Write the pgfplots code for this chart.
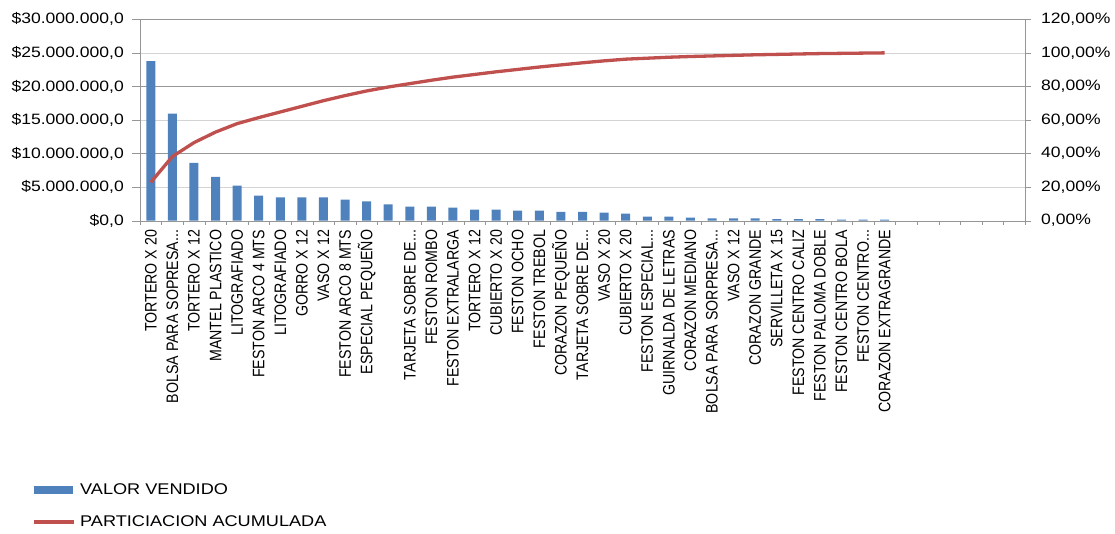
\documentclass[border=0pt]{standalone}
\usepackage{fontspec}
\setmainfont{Liberation Sans}[FakeStretch=1.17]
\newfontfamily\labelfont{Liberation Sans}
\usepackage{pgfplots}
\pgfplotsset{compat=1.18}
\definecolor{barBlue}{RGB}{79,129,189}
\definecolor{lineRed}{RGB}{192,80,77}
\definecolor{gridDark}{RGB}{150,150,150}
\definecolor{gridLight}{RGB}{212,212,212}
\newcommand{\tdots}{.{}.{}.}

\begin{document}
\begin{tikzpicture}
    % mesmo tamanho nos dois eixos
    \pgfplotsset{
        chart size/.style={
            scale only axis,
            width=885pt,
            height=201.4pt,
            xmin=0.5, xmax=41.5,
        }
    }

    % eixo esquerdo: barras (valor vendido)
    \begin{axis}[
        chart size,
        ybar, bar width=9pt,
        ymin=0, ymax=30000000,
        scaled y ticks=false,
        axis x line*=bottom, axis y line*=left,
        axis line style={draw=gridDark, -},
        ytick={0,5000000,10000000,15000000,20000000,25000000,30000000},
        yticklabels={{\$0,0},{\$5.000.000,0},{\$10.000.000,0},{\$15.000.000,0},{\$20.000.000,0},{\$25.000.000,0},{\$30.000.000,0}},
        ytick align=outside, xtick align=outside,
        major tick length=8pt, minor tick length=4pt,
        tick style={draw=gridDark},
        every major x tick/.append style={draw=none},
        xtick pos=bottom, ytick pos=left,
        xtick={1,...,35},
        minor xtick={0.5,1.5,...,41.5},
        xticklabels={TORTERO X 20, BOLSA PARA SOPRESA\tdots, TORTERO X 12, MANTEL PLASTICO,
            LITOGRAFIADO, FESTON ARCO 4 MTS, LITOGRAFIADO, GORRO X 12, VASO X 12,
            FESTON ARCO 8 MTS, ESPECIAL PEQUEÑO, {}, TARJETA SOBRE DE\tdots, FESTON ROMBO,
            FESTON EXTRALARGA, TORTERO X 12, CUBIERTO X 20, FESTON OCHO, FESTON TREBOL,
            CORAZON PEQUEÑO, TARJETA SOBRE DE\tdots, VASO X 20, CUBIERTO X 20,
            FESTON ESPECIAL\tdots, GUIRNALDA DE LETRAS, CORAZON MEDIANO,
            BOLSA PARA SORPRESA\tdots, VASO X 12, CORAZON GRANDE, SERVILLETA X 15,
            FESTON CENTRO CALIZ, FESTON PALOMA DOBLE, FESTON CENTRO BOLA,
            FESTON CENTRO\tdots, CORAZON EXTRAGRANDE},
        xticklabel style={font=\labelfont\fontsize{14.2}{16}\selectfont,
            xscale=1.17, rotate=90, anchor=east, inner sep=0pt},
        xticklabel shift=1pt,
        yticklabel style={font=\fontsize{15}{18}\selectfont, anchor=east, inner sep=0pt},
        yticklabel shift=8pt,
        ymajorgrids, grid style={draw=gridLight},
        extra y ticks={10000000,20000000,30000000},
        extra y tick labels={},
        extra y tick style={ymajorgrids, major grid style={draw=gridDark}},
        legend cell align=left,
        legend style={at={(0,0)}, anchor=north west, xshift=-108pt, yshift=-262pt,
            draw=none, fill=none, inner sep=0pt,
            font=\fontsize{15.5}{18}\selectfont,
            nodes={inner sep=0pt, text height=12pt, text depth=3pt},
            row sep=17pt, column sep=4pt},
    ]
    \addplot[fill=barBlue, draw=none,
        legend image code/.code={\fill[barBlue] (0pt,-4pt) rectangle (39pt,4pt);}]
    coordinates {
        (1,23770000) (2,15940000) (3,8620000) (4,6530000) (5,5230000)
        (6,3740000) (7,3490000) (8,3490000) (9,3490000) (10,3140000)
        (11,2890000) (12,2440000) (13,2090000) (14,2090000) (15,1940000)
        (16,1640000) (17,1640000) (18,1490000) (19,1490000) (20,1300000)
        (21,1300000) (22,1200000) (23,1050000) (24,600000) (25,600000)
        (26,450000) (27,350000) (28,350000) (29,350000) (30,250000)
        (31,250000) (32,250000) (33,150000) (34,150000) (35,150000)
    };
    \addlegendentry{VALOR VENDIDO}
    \addlegendimage{legend image code/.code={\draw[lineRed, line width=4pt] (0pt,0pt) -- (40pt,0pt);}}
    \addlegendentry{PARTICIACION ACUMULADA}
    \end{axis}

    % eixo direito: participacao acumulada
    \begin{axis}[
        chart size,
        ymin=0, ymax=120,
        axis x line=none, axis y line*=right,
        axis line style={draw=gridDark, -},
        ytick={0,20,40,60,80,100,120},
        yticklabels={{0,00\%},{20,00\%},{40,00\%},{60,00\%},{80,00\%},{100,00\%},{120,00\%}},
        ytick align=outside, major tick length=6pt,
        tick style={draw=gridDark},
        yticklabel style={font=\fontsize{15}{18}\selectfont, anchor=west, inner sep=0pt},
        yticklabel shift=10pt,
    ]
    \addplot[lineRed, line width=3.3pt, line join=round] coordinates {
        (1,22.88) (2,38.22) (3,46.52) (4,52.80) (5,57.84)
        (6,61.43) (7,64.79) (8,68.15) (9,71.51) (10,74.53)
        (11,77.31) (12,79.66) (13,81.67) (14,83.69) (15,85.55)
        (16,87.13) (17,88.71) (18,90.14) (19,91.58) (20,92.83)
        (21,94.08) (22,95.24) (23,96.25) (24,96.82) (25,97.40)
        (26,97.83) (27,98.17) (28,98.51) (29,98.85) (30,99.09)
        (31,99.33) (32,99.57) (33,99.71) (34,99.86) (35,100.00)
    };
    \end{axis}

    \pgfresetboundingbox
    \path (-140pt,-312.3pt) rectangle (975pt,220.7pt);
\end{tikzpicture}
\end{document}
